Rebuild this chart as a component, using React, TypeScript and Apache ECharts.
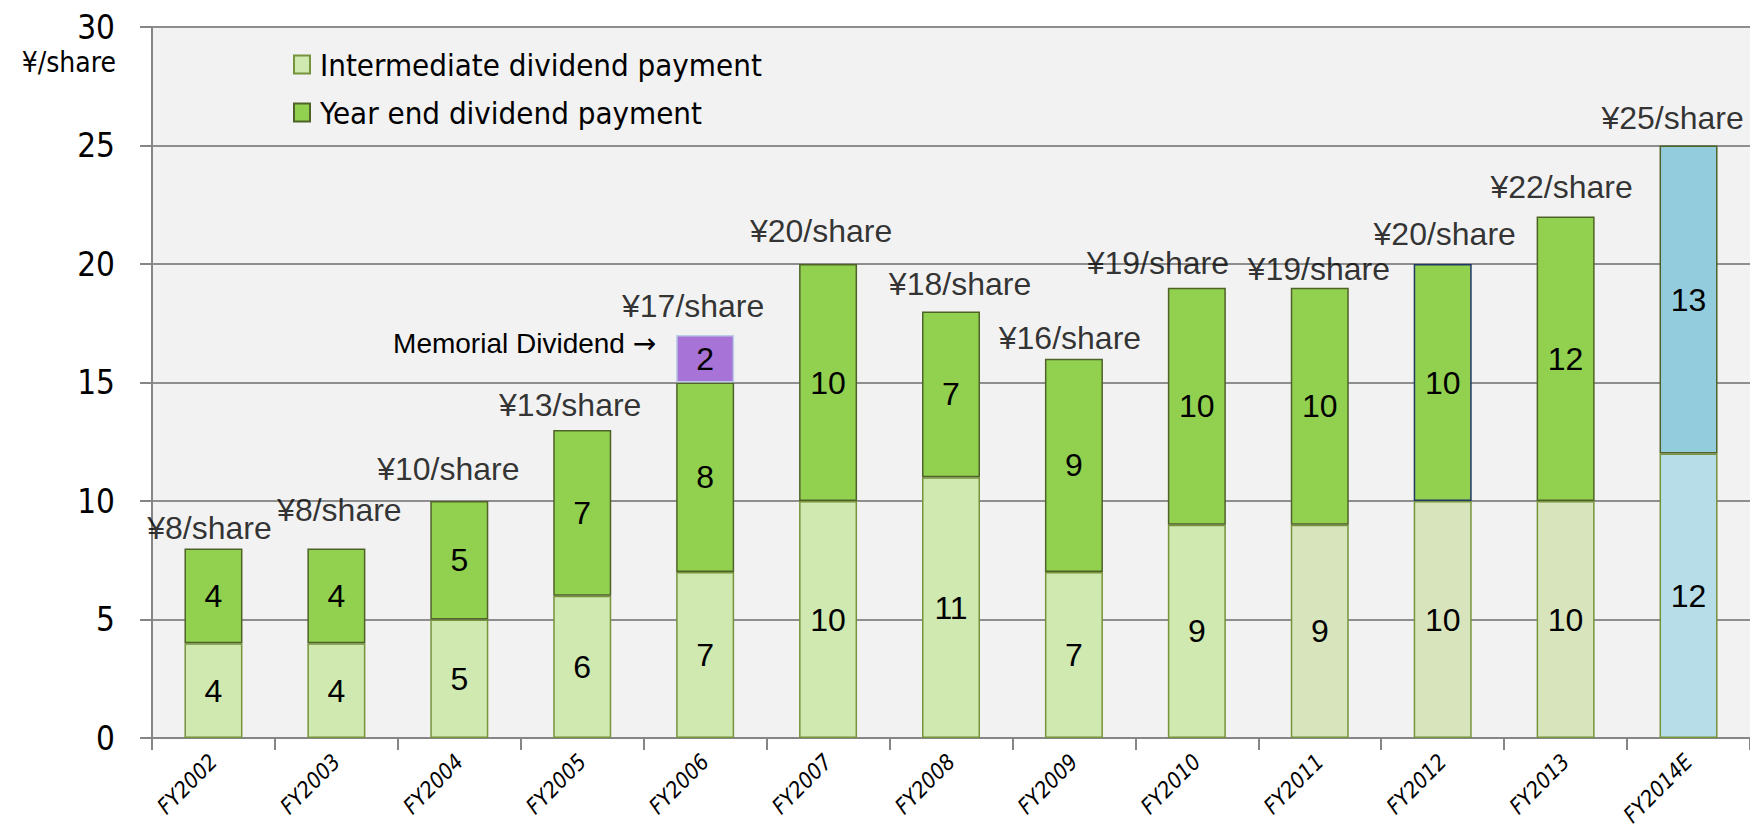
import React, { useEffect, useRef } from "react";
import * as echarts from "echarts";

const categories = [
  "FY2002", "FY2003", "FY2004", "FY2005", "FY2006", "FY2007", "FY2008",
  "FY2009", "FY2010", "FY2011", "FY2012", "FY2013", "FY2014E",
];
const intermediate = [4, 4, 5, 6, 7, 10, 11, 7, 9, 9, 10, 10, 12];
const yearEnd = [4, 4, 5, 7, 8, 10, 7, 9, 10, 10, 10, 12, 13];
const memorial = [null, null, null, null, 2, null, null, null, null, null, null, null, null];
const totals = [8, 8, 10, 13, 17, 20, 18, 16, 19, 19, 20, 22, 25];

const yMin = 0;
const yMax = 30;
const yStep = 5;

// styles (kept separate from data)
const interFill = ["#cfe9b0", "#cfe9b0", "#cfe9b0", "#cfe9b0", "#cfe9b0", "#cfe9b0", "#cfe9b0", "#cfe9b0", "#cfe9b0", "#d8e4bc", "#d8e4bc", "#d8e4bc", "#b7dde8"];
const yearFill = ["#92d050", "#92d050", "#92d050", "#92d050", "#92d050", "#92d050", "#92d050", "#92d050", "#92d050", "#92d050", "#92d050", "#92d050", "#93cddd"];
const yearBorder = ["#4f6228", "#4f6228", "#4f6228", "#4f6228", "#4f6228", "#4f6228", "#4f6228", "#4f6228", "#4f6228", "#4f6228", "#1f3864", "#4f6228", "#4f6228"];
// label shifts [dx, dy] for the total labels
const totalShift = [
  [-4, -20], [3, -38], [-11, -32], [-12, -25], [-12, -29], [-7, -33], [9, -27],
  [-4, -21], [-39, -25], [-1, -19], [2, -30], [-4, -30], [-16, -28],
];

const NARROW = "'Liberation Sans Narrow', 'DejaVu Sans Condensed', sans-serif";
const ARIAL = "'Liberation Sans', Arial, sans-serif";

export default function App() {
  const ref = useRef<HTMLDivElement>(null);
  useEffect(() => {
    if (!ref.current) return;
    const chart = echarts.init(ref.current, null, { renderer: "svg" });
    chart.setOption({
      animation: false,
      backgroundColor: "#ffffff",
      grid: {
        left: 152,
        right: 0,
        top: 27,
        bottom: 90,
        show: true,
        backgroundColor: "#f2f2f2",
        borderWidth: 0,
        outerBoundsMode: "none",
      },
      legend: {
        orient: "vertical",
        left: 288,
        top: 44,
        itemWidth: 16,
        itemHeight: 18,
        itemGap: 17,
        icon: "rect",
        data: ["Intermediate dividend payment", "Year end dividend payment"],
        textStyle: {
          fontFamily: "'DejaVu Sans Condensed', sans-serif",
          fontSize: 31,
          color: "#000",
          padding: [0, 0, 0, 5],
        },
      },
      graphic: [
        {
          type: "text",
          right: 1750 - 116,
          top: 48,
          style: {
            text: "¥/share",
            font: `28px ${NARROW}`,
            fill: "#000",
          },
        },
      ],
      xAxis: {
        type: "category",
        data: categories,
        axisLine: { lineStyle: { color: "#868686", width: 2 } },
        axisTick: { show: true, length: 12, lineStyle: { color: "#868686", width: 2 } },
        axisLabel: {
          rotate: 45,
          fontFamily: NARROW,
          fontStyle: "italic",
          fontSize: 22,
          color: "#000",
          margin: 20,
        },
      },
      yAxis: {
        type: "value",
        min: yMin,
        max: yMax,
        interval: yStep,
        axisLine: { show: true, lineStyle: { color: "#868686", width: 2 } },
        axisTick: { show: true, length: 12, lineStyle: { color: "#868686", width: 2 } },
        splitLine: { show: true, lineStyle: { color: "#8e8e8e", width: 2 } },
        axisLabel: {
          fontFamily: NARROW,
          fontSize: 33,
          color: "#000",
          margin: 37,
        },
      },
      series: [
        {
          name: "Intermediate dividend payment",
          type: "bar",
          stack: "d",
          barWidth: 58,
          itemStyle: { color: "#cfe9b0", borderColor: "#77933c", borderWidth: 1.5 },
          label: {
            show: true,
            position: "inside",
            fontFamily: ARIAL,
            fontSize: 32,
            color: "#000",
          },
          data: intermediate.map((v, i) => ({
            value: v,
            itemStyle: { color: interFill[i] },
          })),
        },
        {
          name: "Year end dividend payment",
          type: "bar",
          stack: "d",
          barWidth: 58,
          itemStyle: { color: "#92d050", borderColor: "#4f6228", borderWidth: 1.5 },
          label: {
            show: true,
            position: "inside",
            fontFamily: ARIAL,
            fontSize: 32,
            color: "#000",
          },
          data: yearEnd.map((v, i) => ({
            value: v,
            itemStyle: { color: yearFill[i], borderColor: yearBorder[i] },
          })),
        },
        {
          name: "Memorial dividend",
          type: "bar",
          stack: "d",
          barWidth: 58,
          itemStyle: { color: "#a873d6", borderColor: "#b9cde5", borderWidth: 1.5 },
          label: {
            show: true,
            position: "inside",
            fontFamily: ARIAL,
            fontSize: 32,
            color: "#000",
          },
          data: memorial.map((v) => (v == null ? "-" : v)),
          markPoint: {
            symbol: "rect",
            symbolSize: 0,
            data: [
              {
                coord: [categories[4], 16],
                value: 2,
                label: {
                  show: true,
                  position: "left",
                  distance: 49,
                  offset: [0, -15],
                  formatter: "Memorial Dividend {a|\u2192}",
                  fontFamily: "'Liberation Sans', 'DejaVu Sans', sans-serif",
                  fontSize: 28,
                  color: "#000",
                  rich: {
                    a: {
                      fontFamily: "'DejaVu Sans', sans-serif",
                      fontSize: 28,
                      color: "#000",
                    },
                  },
                },
              },
            ],
          },
        },
        {
          name: "Total",
          type: "scatter",
          symbolSize: 0,
          itemStyle: { color: "transparent" },
          label: {
            show: true,
            position: "inside",
            fontFamily: ARIAL,
            fontSize: 32,
            color: "#000",
            formatter: (p: any) => `¥${p.value[1] ?? p.value}/share`,
          },
          data: totals.map((v, i) => ({
            value: [categories[i], v],
            label: { offset: totalShift[i] },
          })),
          z: 10,
        },
      ],
    });
    return () => chart.dispose();
  }, []);
  return (
    <div
      ref={ref}
      style={{ position: "absolute", left: 0, top: 0, width: 1750, height: 828 }}
    />
  );
}
